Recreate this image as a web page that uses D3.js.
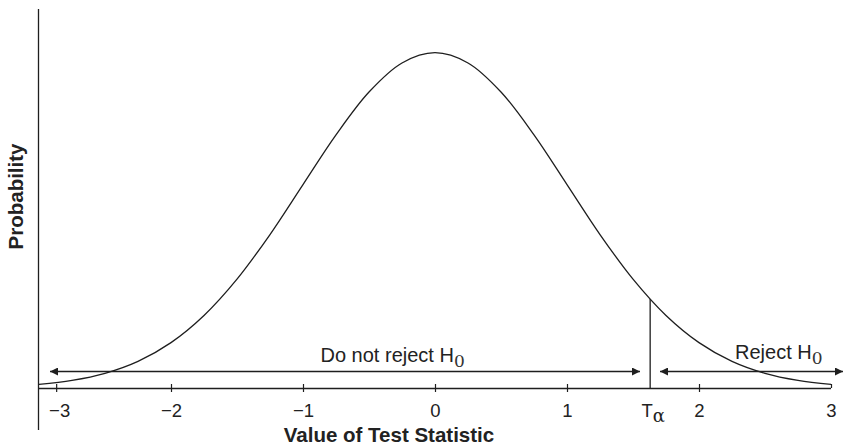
<!DOCTYPE html>
<html>
<head>
<meta charset="utf-8">
<script src="https://cdn.jsdelivr.net/npm/d3@7"></script>
<style>
  body { margin: 0; background: #fff; }
  svg { display: block; font-family: "Liberation Sans", Arial, sans-serif; }
  text { fill: #222; }
</style>
</head>
<body>
<svg id="chart" width="843" height="448"></svg>
<script>
// curve (probability density by test statistic)
const statValues = [-3, -2.75, -2.5, -2.25, -2, -1.75, -1.5, -1.25, -1, -0.75, -0.5, -0.25,
  0, 0.25, 0.5, 0.75, 1, 1.25, 1.5, 1.75, 2, 2.25, 2.5, 2.75, 3];
const probValues = [0.0044, 0.0091, 0.0175, 0.0317, 0.0540, 0.0863, 0.1295, 0.1826, 0.2420, 0.3011, 0.3521, 0.3867,
  0.3989, 0.3867, 0.3521, 0.3011, 0.2420, 0.1826, 0.1295, 0.0863, 0.0540, 0.0317, 0.0175, 0.0091, 0.0044];
// the "-3" tick sits a bit right of -3 in the original figure
const tickValues = [-2.87, -2, -1, 0, 1, 2, 3];
const tickLabels = ['\u22123', '\u22122', '\u22121', '0', '1', '2', '3'];
const tAlpha = [1.63, 0.106];   // critical value, curve height there

const svg = d3.select('#chart');
const x = d3.scaleLinear().domain([-3, 3]).range([39, 831]);
const y = d3.scaleLinear().domain([0, 0.3989]).range([388, 52.7]);
const ink = '#1e1e1e';

// y axis line (no ticks)
svg.append('line')
  .attr('x1', 38.5).attr('x2', 38.5).attr('y1', 9).attr('y2', 430)
  .attr('stroke', ink).attr('stroke-width', 1.3);

// x axis
const xAxis = d3.axisBottom(x)
  .tickValues(tickValues)
  .tickFormat((d, i) => tickLabels[i])
  .tickSizeOuter(0);
const gx = svg.append('g').attr('transform', 'translate(0,388)').call(xAxis);
gx.select('.domain').attr('d', 'M38.5,0.5H831').attr('stroke', ink).attr('stroke-width', 1.3);
gx.selectAll('.tick line')
  .attr('y1', -4).attr('y2', d => d === 3 ? 0 : 4)
  .attr('stroke', ink).attr('stroke-width', 1.2);
gx.selectAll('.tick text')
  .attr('y', 28.5).attr('dy', null)
  .attr('font-size', 18.5).attr('font-family', '"Liberation Sans", Arial, sans-serif')
  .attr('fill', '#222');
gx.selectAll('.tick').filter(d => d === -2.87).select('text').attr('dx', 3);

// density curve
const pts = statValues.map((v, i) => [v, probValues[i]]);
const line = d3.line().x(d => x(d[0])).y(d => y(d[1])).curve(d3.curveCatmullRom);
svg.append('path')
  .attr('d', line(pts))
  .attr('fill', 'none').attr('stroke', ink).attr('stroke-width', 1.3);

// critical value line
svg.append('line')
  .attr('x1', x(tAlpha[0])).attr('x2', x(tAlpha[0]))
  .attr('y1', y(tAlpha[1])).attr('y2', y(0))
  .attr('stroke', ink).attr('stroke-width', 1.3);

const tLabel = svg.append('text')
  .attr('x', 641.5).attr('y', 416.5).attr('font-size', 18.5);
tLabel.append('tspan').text('T');
tLabel.append('tspan').attr('font-family', '"DejaVu Serif", serif').attr('font-size', 18).attr('dy', 5).text('\u03b1');

// arrows
const defs = svg.append('defs');
defs.append('marker')
  .attr('id', 'head').attr('viewBox', '0 0 10 10')
  .attr('refX', 10).attr('refY', 5)
  .attr('markerUnits', 'userSpaceOnUse')
  .attr('markerWidth', 9).attr('markerHeight', 8)
  .attr('orient', 'auto-start-reverse')
  .append('path').attr('d', 'M0,0L10,5L0,10Z').attr('fill', ink);

const arrowY = 371.5;
svg.append('line')
  .attr('x1', 50).attr('x2', 640).attr('y1', arrowY).attr('y2', arrowY)
  .attr('stroke', ink).attr('stroke-width', 1.3)
  .attr('marker-start', 'url(#head)').attr('marker-end', 'url(#head)');
svg.append('line')
  .attr('x1', 660).attr('x2', 843).attr('y1', arrowY).attr('y2', arrowY)
  .attr('stroke', ink).attr('stroke-width', 1.3)
  .attr('marker-start', 'url(#head)').attr('marker-end', 'url(#head)');

function hLabel(text, x0, yb) {
  const t = svg.append('text').attr('x', x0).attr('y', yb).attr('font-size', 20);
  t.append('tspan').text(text);
  t.append('tspan').attr('font-family', '"DejaVu Serif", serif').attr('font-size', 17)
    .attr('dy', 5).attr('fill', '#333').text('0');
}
hLabel('Do not reject H', 320.5, 361.5);
hLabel('Reject H', 735, 359);

// axis titles
svg.append('text')
  .attr('x', 389).attr('y', 441.5)
  .attr('text-anchor', 'middle').attr('font-weight', 'bold').attr('font-size', 20.5)
  .text('Value of Test Statistic');
svg.append('text')
  .attr('transform', 'translate(22.5,196.5) rotate(-90)')
  .attr('text-anchor', 'middle').attr('font-weight', 'bold').attr('font-size', 20.5)
  .text('Probability');
</script>
</body>
</html>
